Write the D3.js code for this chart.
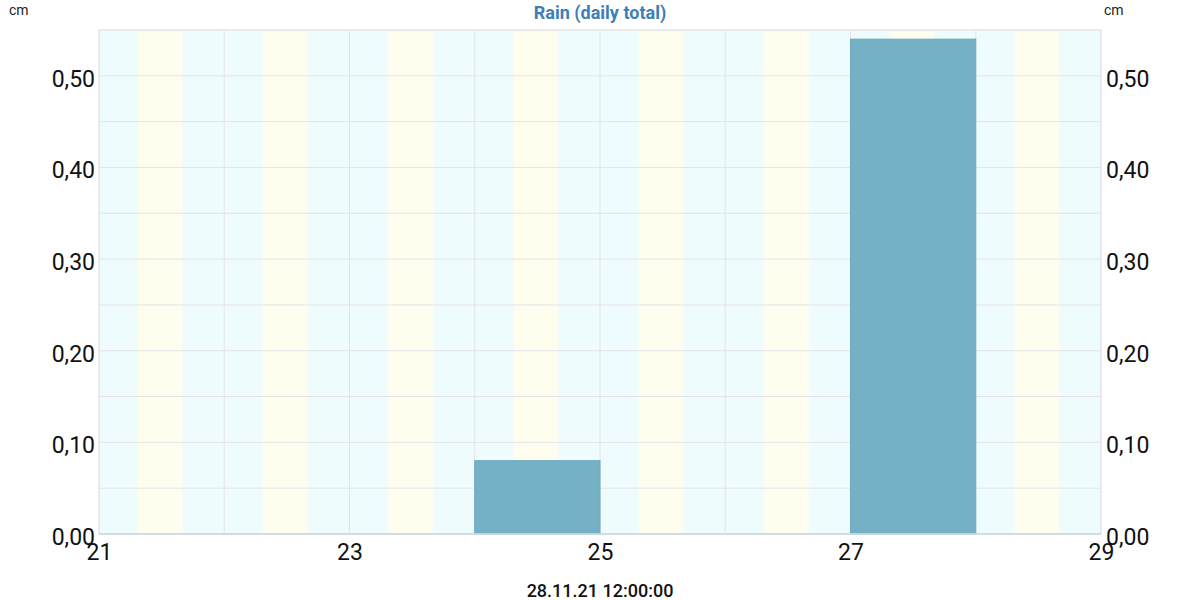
<!DOCTYPE html>
<html>
<head>
<meta charset="utf-8">
<script src="https://cdn.jsdelivr.net/npm/d3@7"></script>
<style>
  body { margin: 0; background: #fff; }
  svg { font-family: Roboto, "Noto Sans", sans-serif; }
</style>
</head>
<body>
<svg id="chart" width="1200" height="600"></svg>
<script>
// daily rain totals (cm), one bar per day
var days = ["2021-11-21", "2021-11-22", "2021-11-23", "2021-11-24", "2021-11-25", "2021-11-26", "2021-11-27", "2021-11-28"]
var rain = [0, 0, 0, 0.08, 0, 0, 0.54, 0]
// daylight band per day
var sunrise = ["07:02", "07:02", "07:02", "07:02", "07:02", "07:02", "07:02", "07:02"]
var sunset = ["16:22", "16:22", "16:22", "16:22", "16:22", "16:22", "16:22", "16:22"]
var yTicks = [0, 0.1, 0.2, 0.3, 0.4, 0.5]
var stamp = "28.11.21 12:00:00"

var svg = d3.select("#chart")
var margin = { t: 30, r: 99, b: 66, l: 99 }
var W = 1200, H = 600
var iw = W - margin.l - margin.r, ih = H - margin.t - margin.b

var parseDay = d3.timeParse("%Y-%m-%d")
var parseDT = d3.timeParse("%Y-%m-%d %H:%M")
var dayDates = days.map(parseDay)
var end = d3.timeDay.offset(dayDates[dayDates.length - 1], 1)

var x = d3.scaleTime().domain([dayDates[0], end]).range([0, iw])
var y = d3.scaleLinear().domain([0, 0.55]).range([ih, 0])

var g = svg.append("g").attr("transform", "translate(" + margin.l + "," + margin.t + ")")

// gradient for daylight bands (soft edges)
var defs = svg.append("defs")
var grad = defs.append("linearGradient").attr("id", "dayGrad")
grad.append("stop").attr("offset", "0%").attr("stop-color", "#fffdee").attr("stop-opacity", 0)
grad.append("stop").attr("offset", "8%").attr("stop-color", "#fffdee").attr("stop-opacity", 1)
grad.append("stop").attr("offset", "92%").attr("stop-color", "#fffdee").attr("stop-opacity", 1)
grad.append("stop").attr("offset", "100%").attr("stop-color", "#fffdee").attr("stop-opacity", 0)

// night background
g.append("rect")
  .attr("x", 0).attr("y", 0).attr("width", iw).attr("height", ih)
  .attr("fill", "#eefcfd")

g.selectAll("rect.day")
  .data(days)
  .join("rect")
  .attr("class", "day")
  .attr("x", (d, i) => x(parseDT(d + " " + sunrise[i])))
  .attr("width", (d, i) => x(parseDT(d + " " + sunset[i])) - x(parseDT(d + " " + sunrise[i])))
  .attr("y", 0).attr("height", ih)
  .attr("fill", "url(#dayGrad)")

// grid
g.selectAll("line.hgrid")
  .data(d3.range(0, 0.5501, 0.05))
  .join("line")
  .attr("class", "hgrid")
  .attr("x1", 0).attr("x2", iw)
  .attr("y1", d => y(d)).attr("y2", d => y(d))
  .attr("stroke", "#e6e3e8").attr("stroke-width", 1)

g.selectAll("line.vgrid")
  .data(dayDates.concat([end]))
  .join("line")
  .attr("class", "vgrid")
  .attr("x1", d => x(d)).attr("x2", d => x(d))
  .attr("y1", 0).attr("y2", ih)
  .attr("stroke", "#e6e3e8").attr("stroke-width", 1)

// bars
g.selectAll("rect.bar")
  .data(rain)
  .join("rect")
  .attr("class", "bar")
  .attr("x", (d, i) => x(dayDates[i]))
  .attr("width", (d, i) => x(d3.timeDay.offset(dayDates[i], 1)) - x(dayDates[i]))
  .attr("y", d => y(d))
  .attr("height", d => ih - y(d))
  .attr("fill", "#74b1c5")
  .attr("stroke", "#6aa8bd").attr("stroke-width", 1)

// frame
g.append("rect")
  .attr("x", 0).attr("y", 0).attr("width", iw).attr("height", ih)
  .attr("fill", "none").attr("stroke", "#e4e4e4")
g.append("line")
  .attr("x1", 0).attr("x2", iw).attr("y1", ih).attr("y2", ih)
  .attr("stroke", "#c9d7e2").attr("stroke-width", 1.5)

// axes
var fmt = d => d3.format(".2f")(d).replace(".", ",")
var yl = d3.axisLeft(y).tickValues(yTicks).tickFormat(fmt).tickSize(0).tickPadding(4)
var yr = d3.axisRight(y).tickValues(yTicks).tickFormat(fmt).tickSize(0).tickPadding(5)
var xa = d3.axisBottom(x).ticks(d3.timeDay.every(2)).tickFormat(d3.timeFormat("%d")).tickSize(0).tickPadding(4)

function styleAxis(sel) {
  sel.select(".domain").remove()
  sel.selectAll("text").attr("font-size", 23).attr("fill", "#111").attr("font-family", "Roboto, sans-serif")
}
g.append("g").call(yl).call(styleAxis).selectAll("text").attr("dy", "0.45em")
g.append("g").attr("transform", "translate(" + iw + ",0)").call(yr).call(styleAxis).selectAll("text").attr("dy", "0.45em")
g.append("g").attr("transform", "translate(0," + ih + ")").call(xa).call(styleAxis).selectAll("text").attr("dy", "0.95em")

// titles
svg.append("text").attr("x", W / 2).attr("y", 19).attr("text-anchor", "middle")
  .attr("font-size", 18).attr("font-weight", "bold").attr("fill", "#3d7eb8")
  .text("Rain (daily total)")
svg.append("text").attr("x", 9).attr("y", 15).attr("font-size", 14).attr("fill", "#222").text("cm")
svg.append("text").attr("x", 1104).attr("y", 15).attr("font-size", 14).attr("fill", "#222").text("cm")
svg.append("text").attr("x", W / 2).attr("y", 597).attr("text-anchor", "middle")
  .attr("font-size", 18).attr("font-weight", 500).attr("fill", "#111")
  .text(stamp)
</script>
</body>
</html>
